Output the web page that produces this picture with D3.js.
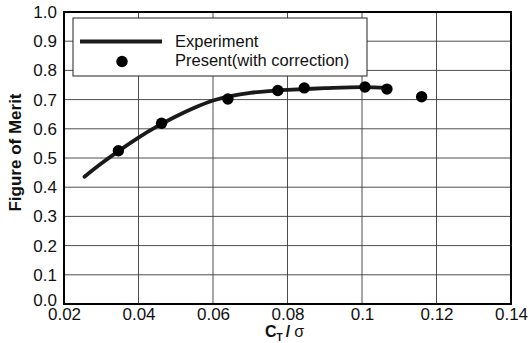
<!DOCTYPE html>
<html>
<head>
<meta charset="utf-8">
<script src="https://cdn.jsdelivr.net/npm/d3@7"></script>
<style>
  html, body { margin: 0; padding: 0; background: #fff; }
  svg { display: block; font-family: Arial, "Liberation Sans", sans-serif; }
</style>
</head>
<body>
<svg id="chart" width="530" height="343"></svg>
<script>
// ---- data ----
const xTicks = [0.02, 0.04, 0.06, 0.08, 0.1, 0.12, 0.14];
const xTickLabels = ["0.02", "0.04", "0.06", "0.08", "0.1", "0.12", "0.14"];
const yTicks = [0.0, 0.1, 0.2, 0.3, 0.4, 0.5, 0.6, 0.7, 0.8, 0.9, 1.0];
const yTickLabels = ["0.0", "0.1", "0.2", "0.3", "0.4", "0.5", "0.6", "0.7", "0.8", "0.9", "1.0"];

const experimentX = [0.0255, 0.030, 0.035, 0.040, 0.045, 0.050, 0.055, 0.060, 0.065, 0.070, 0.075, 0.080, 0.090, 0.100, 0.107];
const experimentY = [0.436, 0.481, 0.527, 0.570, 0.608, 0.642, 0.672, 0.697, 0.713, 0.723, 0.729, 0.733, 0.739, 0.743, 0.740];

const presentX = [0.0346, 0.0462, 0.0640, 0.0774, 0.0845, 0.1008, 0.1067, 0.1160];
const presentY = [0.525, 0.619, 0.702, 0.731, 0.740, 0.743, 0.736, 0.710];

const legendLabels = ["Experiment", "Present(with correction)"];

// ---- layout ----
const svg = d3.select("#chart");
const L = 64, R = 511, T = 12, B = 304;

const x = d3.scaleLinear().domain([0.02, 0.14]).range([L, R]);
const y = d3.scaleLinear().domain([0, 1]).range([B, T]);

// grid
const grid = svg.append("g");
grid.selectAll("line.vg").data(xTicks).join("line")
  .attr("x1", d => x(d)).attr("x2", d => x(d))
  .attr("y1", T).attr("y2", B)
  .attr("stroke", "#3a3a3a").attr("stroke-width", 0.9);
grid.selectAll("line.hg").data(yTicks).join("line")
  .attr("x1", L).attr("x2", R)
  .attr("y1", d => y(d)).attr("y2", d => y(d))
  .attr("stroke", "#3a3a3a").attr("stroke-width", 0.9);

// axes (labels via d3 axis)
const xAxis = d3.axisBottom(x).tickValues(xTicks)
  .tickFormat((d, i) => xTickLabels[i]).tickSize(0).tickPadding(4);
const gx = svg.append("g").attr("transform", `translate(0,${B})`).call(xAxis);
gx.select(".domain").remove();
gx.selectAll("text").attr("font-size", 17).attr("fill", "#111")
  .attr("font-family", "Arial, 'Liberation Sans', sans-serif");

const yAxis = d3.axisLeft(y).tickValues(yTicks)
  .tickFormat((d, i) => yTickLabels[i]).tickSize(0).tickPadding(7);
const gy = svg.append("g").attr("transform", `translate(${L},0)`).call(yAxis);
gy.select(".domain").remove();
gy.selectAll("text").attr("font-size", 17).attr("fill", "#111")
  .attr("font-family", "Arial, 'Liberation Sans', sans-serif");
// the reference sets the "0.0" label slightly above its gridline
gy.selectAll(".tick").filter(d => d === 0).select("text").attr("dy", "0.1em");

// frame
svg.append("rect").attr("x", L).attr("y", T).attr("width", R - L).attr("height", B - T)
  .attr("fill", "none").attr("stroke", "#000").attr("stroke-width", 2);

// experiment line
const pts = experimentX.map((d, i) => [d, experimentY[i]]);
svg.append("path").datum(pts)
  .attr("d", d3.line().x(d => x(d[0])).y(d => y(d[1])).curve(d3.curveCatmullRom))
  .attr("fill", "none").attr("stroke", "#1a1a1a").attr("stroke-width", 3.8)
  .attr("stroke-linecap", "round");

// present points
svg.append("g").selectAll("circle").data(presentX).join("circle")
  .attr("cx", d => x(d)).attr("cy", (d, i) => y(presentY[i])).attr("r", 5.7)
  .attr("fill", "#000");

// legend
const lg = svg.append("g");
lg.append("rect").attr("x", 73).attr("y", 18).attr("width", 294).attr("height", 58)
  .attr("fill", "#fff").attr("stroke", "#222").attr("stroke-width", 1);
lg.append("line").attr("x1", 80).attr("x2", 162).attr("y1", 41.5).attr("y2", 41.5)
  .attr("stroke", "#1a1a1a").attr("stroke-width", 3.8);
lg.append("circle").attr("cx", 122).attr("cy", 61.5).attr("r", 5.7).attr("fill", "#000");
lg.selectAll("text").data(legendLabels).join("text")
  .attr("x", 175).attr("y", (d, i) => 47 + i * 19)
  .attr("font-size", 16.5).attr("fill", "#111").text(d => d);

// axis titles
svg.append("text")
  .attr("transform", "translate(21,152.5) rotate(-90)")
  .attr("text-anchor", "middle").attr("font-size", 17).attr("font-weight", "bold")
  .attr("fill", "#111").text("Figure of Merit");

const xt = svg.append("text").attr("x", 265).attr("y", 337).attr("fill", "#111");
xt.append("tspan").attr("font-size", 16).attr("font-weight", "bold").text("C");
xt.append("tspan").attr("font-size", 10).attr("font-weight", "bold").attr("dy", 4).text("T");
xt.append("tspan").attr("font-size", 16).attr("font-weight", "bold").attr("dy", -4).attr("dx", 3).text("/");
xt.append("tspan").attr("font-size", 16).attr("dx", 4).text("σ");
</script>
</body>
</html>
